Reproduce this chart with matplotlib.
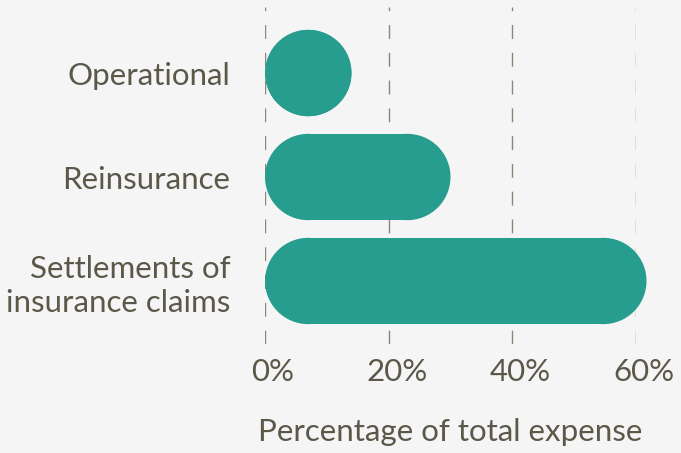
import matplotlib.pyplot as plt
import matplotlib.transforms as mtransforms
from matplotlib.patches import Ellipse, Rectangle

categories = ['Operational', 'Reinsurance', 'Settlements of\ninsurance claims']
values = [14, 30, 61.7]
ticks = [0, 20, 40, 60]
tick_labels = ['0%', '20%', '40%', '60%']

bg = '#f5f5f5'
teal = '#279d8f'
txt = '#5b5849'

plt.rcParams['font.family'] = ['Lato', 'DejaVu Sans']

fig = plt.figure(figsize=(6.81, 4.53), dpi=100, facecolor=bg)
ax = fig.add_axes([265/681, (453-344)/453, (636-265)/681, (344-7)/453])
ax.set_facecolor(bg)

xmax = 60
ylo, yhi = 2.606, -0.635
ax.set_xlim(0, xmax)
ax.set_ylim(ylo, yhi)

# half bar height in x data units so the ends are real half circles
x_per_px = xmax / ax.bbox.width
y_per_px = (ylo - yhi) / ax.bbox.height
h = 0.83
r = (h / 2) / y_per_px * x_per_px

for i, v in enumerate(values):
    v = max(v, 2 * r)
    ax.add_patch(Ellipse((r, i), 2 * r, h, fc=teal, ec='none', clip_on=False, zorder=3))
    ax.add_patch(Ellipse((v - r, i), 2 * r, h, fc=teal, ec='none', clip_on=False, zorder=3))
    ax.add_patch(Rectangle((r, i - h/2), v - 2 * r, h, fc=teal, ec='none', clip_on=False, zorder=3))

ax.set_yticks(range(len(categories)))
ax.set_yticklabels(categories, fontsize=22.5, color=txt, linespacing=1.25)
ax.set_xticks(ticks)
ax.set_xticklabels(tick_labels, fontsize=22.5, color=txt)
ax.tick_params(length=0)
ax.tick_params(axis='y', pad=25)
ax.tick_params(axis='x', pad=10)
shift = mtransforms.ScaledTranslation(8/100, 0, fig.dpi_scale_trans)
for lab in ax.get_xticklabels():
    lab.set_transform(lab.get_transform() + shift)
for s in ax.spines.values():
    s.set_visible(False)
ax.grid(axis='x', color='#8a8679', linestyle=(0, (10, 10)), linewidth=1, zorder=0)
ax.set_xlabel('Percentage of total expense', fontsize=22.5, color=txt, labelpad=23)

fig.savefig('out.png', dpi=100, facecolor=bg)
